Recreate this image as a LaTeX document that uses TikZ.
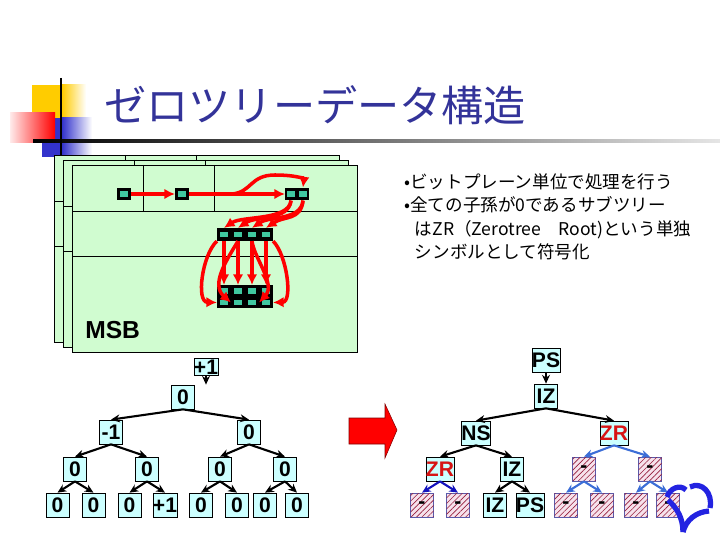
\documentclass[tikz,border=0pt]{standalone}
\usepackage{fontspec}
\setmainfont{Liberation Sans}
\newfontfamily\jpfont{Noto Sans CJK JP}
\usepackage{tikz}
\usetikzlibrary{positioning, calc, arrows.meta, patterns.meta}
\usepackage{xcolor}

\definecolor{titleblue}{RGB}{51,51,153}
\definecolor{deco yellow}{RGB}{255,204,0}
\definecolor{deco blue}{RGB}{51,51,204}
\definecolor{planegreen}{RGB}{208,252,208}
\definecolor{dotgreen}{RGB}{64,200,160}
\definecolor{boxcyan}{RGB}{204,255,255}
\definecolor{hatchbg}{RGB}{246,226,236}
\definecolor{hatchred}{RGB}{150,30,60}
\definecolor{hatchedge}{RGB}{90,90,170}
\definecolor{zrred}{RGB}{215,20,20}
\definecolor{subblue}{RGB}{20,20,190}
\definecolor{lightsub}{RGB}{60,110,215}
\definecolor{logoblue}{RGB}{35,35,225}

\begin{document}
\begin{tikzpicture}[x=0.02cm, y=-0.02cm,
    % Base styles
    basebox/.style={minimum width=0.46cm, minimum height=0.48cm, inner sep=0pt,
        font=\fontsize{12}{13}\selectfont\bfseries},
    % Coefficient boxes of the trees
    cbox/.style={basebox, draw, fill=boxcyan},
    zrbox/.style={cbox, text=zrred},
    hatchbox/.style={basebox, draw=hatchedge, fill=hatchbg,
        postaction={pattern={Lines[angle=45, distance=2.2pt, line width=0.35pt]}, pattern color=hatchred}},
    % Coefficients inside the bit planes
    coef/.style={fill=black, minimum width=0.27cm, minimum height=0.25cm, inner sep=0pt,
        path picture={\fill[dotgreen] ([shift={(-2pt,-1.5pt)}]path picture bounding box.center)
            rectangle ([shift={(2pt,1.5pt)}]path picture bounding box.center);}},
    plane/.style={draw, fill=planegreen},
    % Arrow styles
    redarrow/.style={draw=red, line width=2pt, -{Latex[length=6pt, width=6pt]}},
    tarrow/.style={-{Stealth[length=5pt, width=4.5pt]}, line width=1.2pt},
]
\useasboundingbox (0,0) rectangle (720,540);

% Title decoration
\fill[deco yellow] (32,85) rectangle (62,120);
\shade[left color=deco yellow, right color=white] (62,85) rectangle (86,120);
\fill[deco blue] (42,118) rectangle (62,157);
\shade[left color=deco blue, right color=white] (62,118) rectangle (92,157);
\shade[left color=red!8, right color=red] (10,113) rectangle (55,143);
\shade[left color=black, right color=black!10] (33,139.8) rectangle (720,142.2);
\draw[line width=1.1pt] (61,78) -- (61,160);
\node[anchor=west, inner sep=0pt, text=titleblue, font=\jpfont\fontsize{24}{28}\selectfont] (title) at (104,105) {ゼロツリーデータ構造};

% Bit planes (back to front)
\foreach \dx/\dy in {-18/-10, -9/-5, 0/0}{
    \begin{scope}[shift={(\dx,\dy)}]
        \draw[plane] (72,165) rectangle (357,352);
        \draw (72,211) -- (357,211) (72,256) -- (357,256)
              (143,165) -- (143,211) (214,165) -- (214,211);
    \end{scope}
}
\node[anchor=west, inner sep=0pt, font=\fontsize{14}{16}\selectfont\bfseries] (msb) at (85,330) {MSB};

% Coefficients
\node[coef] (c1) at (124,194) {};
\node[coef] (c2) at (182,194) {};
\node[coef, minimum width=0.23cm] (c3a) at (291,194) {};
\node[coef, minimum width=0.23cm] (c3b) at (303,194) {};
\foreach \i/\x in {1/224, 2/238, 3/252, 4/266}{
    \node[coef] (d\i) at (\x,234.5) {};
    \node[coef, minimum height=0.23cm] (ea\i) at (\x,291) {};
    \node[coef, minimum height=0.23cm] (eb\i) at (\x,302.5) {};
}

% Scan order arrows
\coordinate (split) at ($(c2.east)!0.45!(c3a.west)$);
\draw[redarrow] (c1) -- (c2);
\draw[redarrow] (c2) -- (c3a);
\draw[redarrow] (split) .. controls (252,192) and (250,175) .. (275,175)
    .. controls (296,175) and (304,179) .. (c3b.north);
\foreach \i/\s in {1/c3a, 2/c3a, 3/c3b, 4/c3b}
    \draw[redarrow] (\s.south) .. controls +(-2,20) and +(18,-12) .. (d\i.north);
\foreach \i in {1,...,4}
    \draw[redarrow] (d\i.south) -- (ea\i.north);
\draw[redarrow] (d1.south west) .. controls (202,255) and (196,302) .. (eb1.west);
\draw[redarrow] (d2.south) .. controls (228,258) and (210,284) .. (eb2.west);
\draw[redarrow] (d3.south) .. controls (254,258) and (276,284) .. (eb3.east);
\draw[redarrow] (d4.south east) .. controls (287,255) and (293,302) .. (eb4.east);

% Bullet text
\node[anchor=north west, align=left, inner sep=0pt, font=\jpfont\fontsize{10}{13.4}\selectfont] (bullets) at (404,173)
    {•ビットプレーン単位で処理を行う\\•全ての子孫が0であるサブツリー\\
     \hspace{0.6em}はZR（Zerotree　Root)という単独\\\hspace{0.6em}シンボルとして符号化};

% Left tree: coefficient values
\node[cbox, minimum width=0.44cm, minimum height=0.34cm] (lp) at (206,367) {+1};
\node[cbox] (l0) at (183,397) {0};
\node[cbox] (l1a) at (111,432) {-1};
\node[cbox] (l1b) at (249,432) {0};
\foreach \n/\x in {a/75, b/147, c/220, d/285}
    \node[cbox] (l2\n) at (\x,469) {0};
\foreach \n/\x/\t in {a/57.5/0, b/93.5/0, c/129.5/0, d/165/+1, e/201/0, f/237/0, g/265/0, h/297/0}
    \node[cbox] (l3\n) at (\x,505) {\t};

\draw[tarrow] (lp.south) -- (lp.south |- l0.north);
\foreach \p/\c in {l0/l1a, l0/l1b, l1a/l2a, l1a/l2b, l1b/l2c, l1b/l2d,
                   l2a/l3a, l2a/l3b, l2b/l3c, l2b/l3d, l2c/l3e, l2c/l3f, l2d/l3g, l2d/l3h}
    \draw[tarrow] (\p.south) -- (\c.north);

% Block arrow
\draw[fill=red, draw=red!50!black, line width=0.3pt] (349,418) -- (385,418) -- (385,404) -- (397,430)
    -- (385,458) -- (385,444) -- (349,444) -- cycle;

% Right tree: symbols
\node[cbox] (r0) at (546,360) {PS};
\node[cbox] (r1) at (546,396) {IZ};
\node[cbox] (r2a) at (476,433) {NS};
\node[zrbox] (r2b) at (614,433) {ZR};
\node[zrbox] (r3a) at (440,469) {ZR};
\node[cbox] (r3b) at (512,469) {IZ};
\node[hatchbox] (r3c) at (584,469) {-};
\node[hatchbox] (r3d) at (650,469) {-};
\node[hatchbox] (r4a) at (422,505) {-};
\node[hatchbox] (r4b) at (458,505) {-};
\node[cbox] (r4c) at (495,505) {IZ};
\node[cbox] (r4d) at (530,505) {PS};
\foreach \n/\x in {e/566, f/602, g/636, h/668}
    \node[hatchbox] (r4\n) at (\x,505) {-};

\foreach \p/\c in {r0/r1, r1/r2a, r1/r2b, r2a/r3a, r2a/r3b, r3b/r4c, r3b/r4d}
    \draw[tarrow] (\p.south) -- (\c.north);
\foreach \p/\c in {r3a/r4a, r3a/r4b}
    \draw[tarrow, subblue] (\p.south) -- (\c.north);
\foreach \p/\c in {r2b/r3c, r2b/r3d, r3c/r4e, r3c/r4f, r3d/r4g, r3d/r4h}
    \draw[tarrow, lightsub] (\p.south) -- (\c.north);

% Logo
\draw[logoblue, line width=3pt] (667,497) .. controls (670,488) and (680,484) .. (686,490);
\draw[logoblue, line width=3pt] (690,487) .. controls (702,481) and (713,493) .. (710,508);
\draw[logoblue, line width=3pt] (668,500) .. controls (677,508) and (683,518) .. (683,532);
\draw[logoblue, line width=3pt] (709,511) .. controls (696,512) and (686,520) .. (683,532);

\end{tikzpicture}
\end{document}
